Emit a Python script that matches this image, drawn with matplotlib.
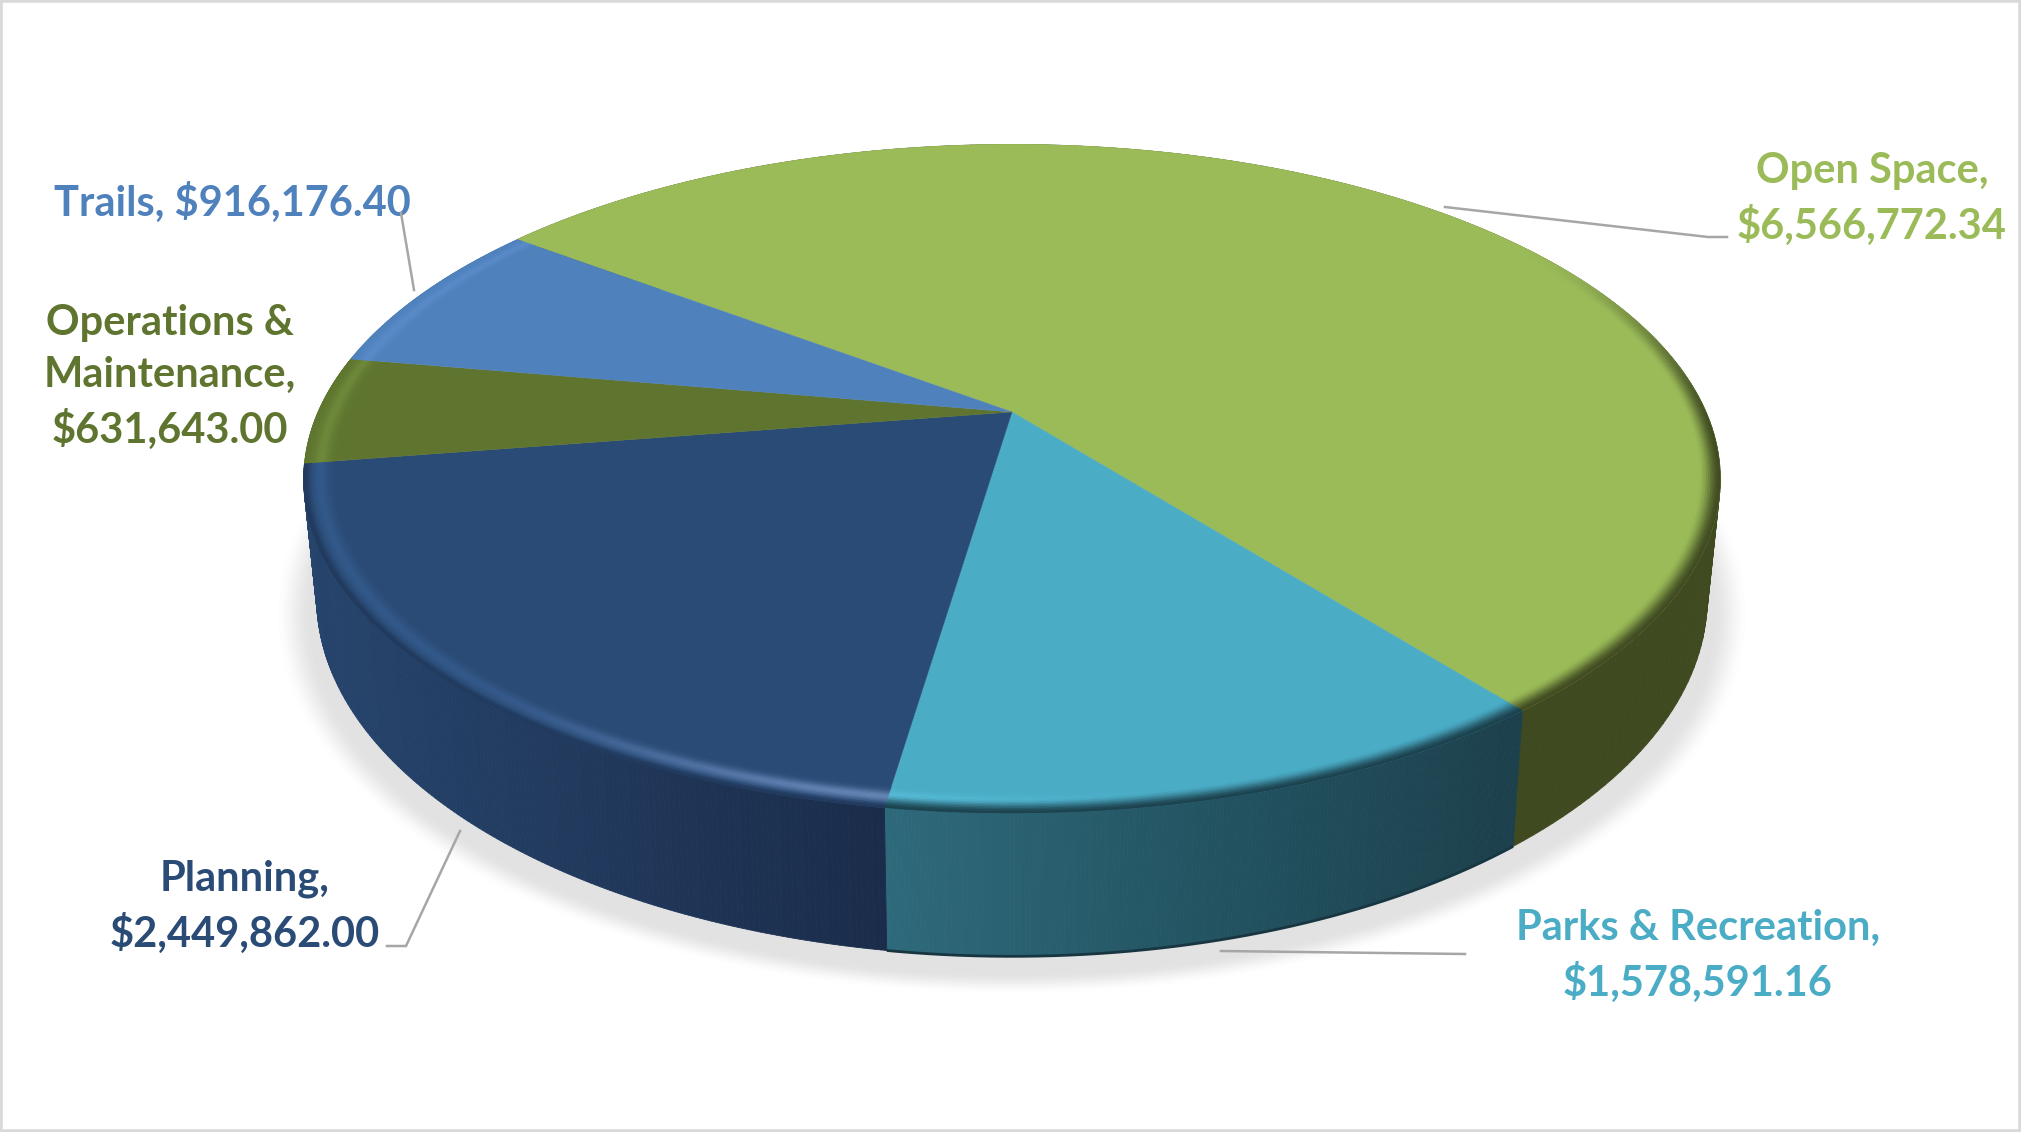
import numpy as np
import matplotlib
matplotlib.use("Agg")
import matplotlib.pyplot as plt
from matplotlib.collections import PolyCollection
from matplotlib.colors import to_rgb
from matplotlib.patches import Rectangle

names = ["Open Space", "Parks & Recreation", "Planning", "Operations &\nMaintenance", "Trails"]
values = [6566772.34, 1578591.16, 2449862.00, 631643.00, 916176.40]
separators = [",\n", ",\n", ",\n", ",\n", ", "]
face_colors = ["#9bbb59", "#4bacc6", "#2a4b75", "#5f752f", "#4f81bd"]
text_colors = ["#9bbb59", "#4bacc6", "#2a4b75", "#5f752f", "#4f81bd"]
side_left = ["#3f4a21", "#2e6a7c", "#26446c", "#3f4a21", "#34557d"]
side_mid = ["#3f4a21", "#235462", "#21395c", "#3f4a21", "#34557d"]
side_right = ["#3f4a21", "#1c404c", "#1a2c4a", "#3f4a21", "#34557d"]
rim_light_left = ["#9bbb59", "#58bfdb", "#33598a", "#6f8a3c", "#5a8ccb"]
rim_light_right = ["#9bbb59", "#4bacc6", "#6585b5", "#6f8a3c", "#5a8ccb"]
label_xy = [(1872, 199), (1698, 956), (245, 907), (170, 377), (232, 202)]
leaders = [
    [(1445, 207), (1708, 237), (1727, 237)],
    [(1221, 951), (1465, 954)],
    [(460, 831), (406, 946), (387, 946)],
    [(401, 213), (414, 290)],
]
hidden_sides = (3, 4)

CX, CY, A, B, K = 1012.0, 412.0, 694.0, 321.0, 0.2
START = 307.0
TOP_CY, TOP_HW, TOP_HH = 478.0, 708.0, 334.0
BOT_CY, BOT_HW, BOT_HH = 597.0, 695.0, 358.0
R0 = 0.955


def project(theta, r=1.0):
    u, v = r * np.sin(theta), -r * np.cos(theta)
    w = 1 - K * v
    return CX + A * u / w, CY + B * v / w


def lower(x, y):
    return CX + (x - CX) * BOT_HW / TOP_HW, BOT_CY + (y - TOP_CY) * BOT_HH / TOP_HH


def sstep(a, b, x):
    t = np.clip((x - a) / (b - a), 0, 1)
    return t * t * (3 - 2 * t)


fig = plt.figure(figsize=(20.21, 11.32), dpi=100, facecolor="white")
ax = fig.add_axes([0, 0, 1, 1])
ax.set_xlim(0, 2021)
ax.set_ylim(1132, 0)
ax.axis("off")

# soft shadow under the disc
phi = np.linspace(0, 2 * np.pi, 400)
for f in np.linspace(1, 0, 30):
    shade = np.array(to_rgb("#e2e2e2")) + (1 - np.array(to_rgb("#e2e2e2"))) * sstep(0, 1, f)
    ax.fill(1012 + (700 + 38 * f) * np.cos(phi), 615 + (358 + 22 * f) * np.sin(phi),
            color=shade, lw=0, zorder=1)

edges = np.radians(START + 360 * np.concatenate([[0], np.cumsum(values)]) / np.sum(values))

# side wall
for i in range(len(values)):
    if i in hidden_sides:
        continue
    th = np.linspace(edges[i], edges[i + 1], 180)
    x, y = project(th)
    xb, yb = lower(x, y)
    t = (x - x.min()) / (x.max() - x.min())
    cl, cm, cr = [np.array(to_rgb(c[i])) for c in (side_left, side_mid, side_right)]
    quads, cols = [], []
    for j in range(len(th) - 1):
        quads.append([(x[j], y[j]), (x[j + 1], y[j + 1]), (xb[j + 1], yb[j + 1]), (xb[j], yb[j])])
        tt = t[j]
        cols.append(cl + (cm - cl) * tt * 2 if tt < 0.5 else cm + (cr - cm) * (tt - 0.5) * 2)
    ax.add_collection(PolyCollection(quads, facecolors=cols, edgecolors=cols, linewidths=0.6, zorder=2))
    if i == 1:
        ax.plot(xb, yb, color=np.array(cr) * 0.85, lw=2.0, zorder=2.1, solid_capstyle="butt")

# top face with bevelled rim
levels = np.linspace(R0, 1.0, 15)
for i in range(len(values)):
    th = np.linspace(edges[i], edges[i + 1], 240)
    x, y = project(th)
    ax.fill(np.r_[CX, x], np.r_[CY, y], color=face_colors[i], lw=0.3, zorder=3)
    face = np.array(to_rgb(face_colors[i]))
    dark = np.array(to_rgb(side_right[i])) if i != 2 else np.array(to_rgb(side_mid[i]))
    hl, hr = np.array(to_rgb(rim_light_left[i])), np.array(to_rgb(rim_light_right[i]))
    quads, cols = [], []
    xn = (x - x.min()) / (x.max() - x.min())
    for a in range(len(levels) - 1):
        r1, r2 = levels[a], levels[a + 1]
        t = (a + 0.5) / (len(levels) - 1)
        x1, y1 = project(th, r1)
        x2, y2 = project(th, r2)
        bump = np.exp(-((t - 0.5) / 0.25) ** 2)
        ramp = sstep(0.72, 1.0, t) if i == 2 else sstep(0.35, 1.0, t)
        for j in range(len(th) - 1):
            v = -np.cos(th[j])
            s = sstep(-0.6, 0.1, v)
            if i == 1:
                h = max(0, 1 - xn[j] / 0.45)
                hc = hl
            elif i == 2:
                h = 1.0
                hc = hl + (hr - hl) * sstep(0.25, 1.0, xn[j])
            elif i in (3, 4):
                h, hc, s = 0.9, hl, 0.0
            else:
                h, hc = 0.0, hl
            col = face + (hc - face) * h * bump
            col = col + (dark - col) * ramp * s
            quads.append([(x1[j], y1[j]), (x1[j + 1], y1[j + 1]), (x2[j + 1], y2[j + 1]), (x2[j], y2[j])])
            cols.append(col)
    ax.add_collection(PolyCollection(quads, facecolors=cols, edgecolors=cols, linewidths=0.4, zorder=4))

# labels
for name, val, sep, col, (lx, ly) in zip(names, values, separators, text_colors, label_xy):
    ax.text(lx, ly, f"{name}{sep}${val:,.2f}", color=col, ha="center", va="center",
            fontsize=30, fontweight="bold", family="Lato", linespacing=1.44, zorder=6)

for pts in leaders:
    ax.plot(*zip(*pts), color="#a6a6a6", lw=1.8, zorder=7, solid_joinstyle="miter")

ax.add_patch(Rectangle((0, 0), 2021, 1132, fill=False, ec="#d9d9d9", lw=4, zorder=8))
fig.savefig("out.png", dpi=100, facecolor="white")
